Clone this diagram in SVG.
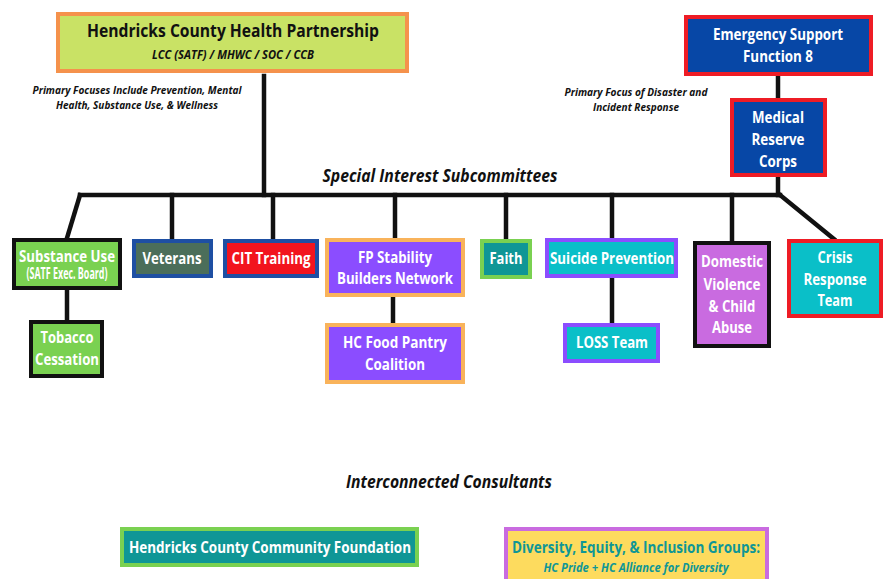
<svg xmlns="http://www.w3.org/2000/svg" width="884" height="579" viewBox="0 0 884 579">
<style>
text{font-family:"Open Sans","Liberation Sans",sans-serif;font-weight:700;text-anchor:middle}
.w{fill:#ffffff;font-size:16px}
.k{fill:#111111}
.it{font-style:italic}
.con line{stroke:#111111;stroke-width:4.5;fill:none;stroke-linecap:square}
</style>
<rect width="884" height="579" fill="#ffffff"/>
<g class="con" id="connectors">
<line x1="264" y1="76" x2="264" y2="195"/>
<line x1="80" y1="195" x2="780" y2="195"/>
<line x1="80" y1="195" x2="67" y2="238"/>
<line x1="172" y1="195" x2="172" y2="239"/>
<line x1="273" y1="195" x2="273" y2="239"/>
<line x1="395" y1="195" x2="395" y2="238"/>
<line x1="506" y1="195" x2="506" y2="239"/>
<line x1="612" y1="195" x2="612" y2="238"/>
<line x1="732" y1="195" x2="732" y2="241"/>
<line x1="780" y1="195" x2="834" y2="239"/>
<line x1="778" y1="76" x2="778" y2="98"/>
<line x1="778" y1="177" x2="778" y2="195"/>
<line x1="67" y1="290" x2="67" y2="320"/>
<line x1="393" y1="297" x2="393" y2="323"/>
<line x1="612" y1="278" x2="612" y2="323"/>
</g>
<g id="labels">
<text class="k it" x="137" y="94" font-size="11" textLength="209" lengthAdjust="spacingAndGlyphs">Primary Focuses Include Prevention, Mental</text>
<text class="k it" x="137" y="109" font-size="11" textLength="162" lengthAdjust="spacingAndGlyphs">Health, Substance Use, &amp; Wellness</text>
<text class="k it" x="440" y="182" font-size="18" textLength="235" lengthAdjust="spacingAndGlyphs">Special Interest Subcommittees</text>
<text class="k it" x="636" y="96" font-size="11" textLength="143" lengthAdjust="spacingAndGlyphs">Primary Focus of Disaster and</text>
<text class="k it" x="636" y="111" font-size="11" textLength="86" lengthAdjust="spacingAndGlyphs">Incident Response</text>
<text class="k it" x="449" y="488" font-size="18" textLength="206" lengthAdjust="spacingAndGlyphs">Interconnected Consultants</text>
</g>
<g id="hchp">
<rect x="58" y="14" width="349" height="57" fill="#C9E265" stroke="#F5924C" stroke-width="4"/>
<text class="k" x="233" y="37" font-size="17" textLength="292" lengthAdjust="spacingAndGlyphs">Hendricks County Health Partnership</text>
<text class="k it" x="233" y="59" font-size="12" textLength="162" lengthAdjust="spacingAndGlyphs">LCC (SATF) / MHWC / SOC / CCB</text>
</g>
<g id="esf8">
<rect x="686" y="17" width="185" height="57" fill="#0747A6" stroke="#EE1C25" stroke-width="4"/>
<text class="w" x="778" y="40" textLength="130" lengthAdjust="spacingAndGlyphs">Emergency Support</text>
<text class="w" x="778" y="62" textLength="70" lengthAdjust="spacingAndGlyphs">Function 8</text>
</g>
<g id="mrc">
<rect x="732" y="100" width="93" height="75" fill="#0747A6" stroke="#EE1C25" stroke-width="4"/>
<text class="w" x="778" y="123" textLength="52" lengthAdjust="spacingAndGlyphs">Medical</text>
<text class="w" x="778" y="145" textLength="53" lengthAdjust="spacingAndGlyphs">Reserve</text>
<text class="w" x="778" y="167" textLength="38" lengthAdjust="spacingAndGlyphs">Corps</text>
</g>
<g id="substance">
<rect x="14" y="240" width="106" height="48" fill="#7AD151" stroke="#111111" stroke-width="4"/>
<text class="w" x="67" y="262" font-size="15.5" textLength="96" lengthAdjust="spacingAndGlyphs">Substance Use</text>
<text class="w" x="67" y="279" font-size="8.5" textLength="81" lengthAdjust="spacingAndGlyphs">(SATF Exec. Board)</text>
</g>
<g id="tobacco">
<rect x="31" y="322" width="71" height="54" fill="#7AD151" stroke="#111111" stroke-width="4"/>
<text class="w" x="67" y="343" textLength="53" lengthAdjust="spacingAndGlyphs">Tobacco</text>
<text class="w" x="67" y="365" textLength="64" lengthAdjust="spacingAndGlyphs">Cessation</text>
</g>
<g id="veterans">
<rect x="134" y="241" width="77" height="35" fill="#4B6E5A" stroke="#1E4FA3" stroke-width="4"/>
<text class="w" x="172" y="264" textLength="59" lengthAdjust="spacingAndGlyphs">Veterans</text>
</g>
<g id="cit">
<rect x="225" y="241" width="92" height="35" fill="#F2141E" stroke="#1E4FA3" stroke-width="4"/>
<text class="w" x="271" y="264" textLength="79" lengthAdjust="spacingAndGlyphs">CIT Training</text>
</g>
<g id="fp">
<rect x="327" y="240" width="136" height="55" fill="#8B4DFF" stroke="#F9B35B" stroke-width="4"/>
<text class="w" x="395" y="263" textLength="74" lengthAdjust="spacingAndGlyphs">FP Stability</text>
<text class="w" x="395" y="284" textLength="116" lengthAdjust="spacingAndGlyphs">Builders Network</text>
</g>
<g id="foodpantry">
<rect x="327" y="325" width="136" height="57" fill="#8B4DFF" stroke="#F9B35B" stroke-width="4"/>
<text class="w" x="395" y="348" textLength="104" lengthAdjust="spacingAndGlyphs">HC Food Pantry</text>
<text class="w" x="395" y="370" textLength="60" lengthAdjust="spacingAndGlyphs">Coalition</text>
</g>
<g id="faith">
<rect x="482" y="241" width="48" height="36" fill="#0F9696" stroke="#7AD151" stroke-width="4"/>
<text class="w" x="506" y="264" textLength="33" lengthAdjust="spacingAndGlyphs">Faith</text>
</g>
<g id="suicide">
<rect x="547" y="240" width="129" height="36" fill="#0ABFC8" stroke="#8B4DFF" stroke-width="4"/>
<text class="w" x="612" y="264" textLength="124" lengthAdjust="spacingAndGlyphs">Suicide Prevention</text>
</g>
<g id="loss">
<rect x="565" y="325" width="93" height="36" fill="#0ABFC8" stroke="#8B4DFF" stroke-width="4"/>
<text class="w" x="612" y="348" textLength="72" lengthAdjust="spacingAndGlyphs">LOSS Team</text>
</g>
<g id="dv">
<rect x="695" y="243" width="74" height="103" fill="#C96BE0" stroke="#111111" stroke-width="4"/>
<text class="w" x="732" y="267" textLength="62" lengthAdjust="spacingAndGlyphs">Domestic</text>
<text class="w" x="732" y="290" textLength="57" lengthAdjust="spacingAndGlyphs">Violence</text>
<text class="w" x="732" y="312" textLength="47" lengthAdjust="spacingAndGlyphs">&amp; Child</text>
<text class="w" x="732" y="333" textLength="40" lengthAdjust="spacingAndGlyphs">Abuse</text>
</g>
<g id="crisis">
<rect x="789" y="241" width="92" height="75" fill="#0ABFC8" stroke="#EE1C25" stroke-width="4"/>
<text class="w" x="835" y="263" textLength="35" lengthAdjust="spacingAndGlyphs">Crisis</text>
<text class="w" x="835" y="285" textLength="63" lengthAdjust="spacingAndGlyphs">Response</text>
<text class="w" x="835" y="306" textLength="35" lengthAdjust="spacingAndGlyphs">Team</text>
</g>
<g id="hccf">
<rect x="122" y="529" width="295" height="36" fill="#0F9696" stroke="#7AD151" stroke-width="4"/>
<text class="w" x="270" y="553" textLength="282" lengthAdjust="spacingAndGlyphs">Hendricks County Community Foundation</text>
</g>
<g id="dei">
<rect x="506" y="529" width="261" height="60" fill="#FDDB5E" stroke="#C96BE0" stroke-width="4"/>
<text x="636" y="553" font-size="16" fill="#0F9696" textLength="248" lengthAdjust="spacingAndGlyphs">Diversity, Equity, &amp; Inclusion Groups:</text>
<text class="it" x="636" y="572" font-size="12" fill="#0F9696" textLength="185" lengthAdjust="spacingAndGlyphs">HC Pride + HC Alliance for Diversity</text>
</g>
</svg>
